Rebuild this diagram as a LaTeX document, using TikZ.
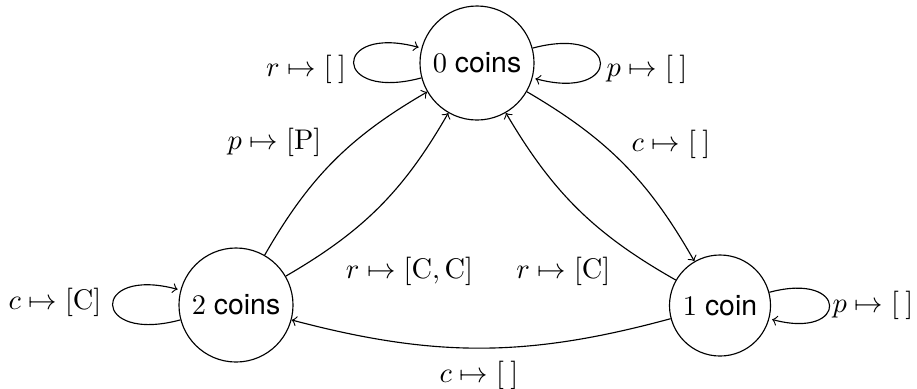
\documentclass[tikz,border=0pt]{standalone}
\usepackage{fontspec}
\newfontfamily\heros{TeX Gyre Heros}
\begin{document}
\begin{tikzpicture}[x=0.352pt,y=-0.352pt,
  state/.style={circle,draw,inner sep=0.3333em},
  lbl/.style={inner sep=0pt},
  tr/.style={->,line width=0.4pt}]
\useasboundingbox (0,0) rectangle (917,388);
% states
\node[state] (z) at (477,63) {\heros$0$ coins};
\node[state] (t) at (236,305) {\heros$2$ coins};
\node[state] (o) at (720,305.5) {\heros$1$ coin};
% transitions
\path[tr] (z) edge[loop left] (z)
          (z) edge[loop right] (z)
          (z) edge[bend left=15] (o)
          (o) edge[bend left=15] (z)
          (t) edge[bend left=15] (z)
          (t) edge[bend right=15] (z)
          (o) edge[bend left=15] (t)
          (t) edge[loop left] (t)
          (o) edge[loop right] (o);
% labels
\node[lbl] (l1) at (306,69) {$r\mapsto[\:]$};
\node[lbl] (l2) at (647,69) {$p\mapsto[\:]$};
\node[lbl] (l3) at (274.5,142.5) {$p\mapsto[\mathrm{P}]$};
\node[lbl] (l4) at (671,144.5) {$c\mapsto[\:]$};
\node[lbl] (l5) at (409.5,271) {$r\mapsto[\mathrm{C},\mathrm{C}]$};
\node[lbl] (l6) at (563.3,271) {$r\mapsto[\mathrm{C}]$};
\node[lbl] (l7) at (55,302) {$c\mapsto[\mathrm{C}]$};
\node[lbl] (l8) at (873,305) {$p\mapsto[\:]$};
\node[lbl] (l9) at (479,375) {$c\mapsto[\:]$};
\end{tikzpicture}
\end{document}
